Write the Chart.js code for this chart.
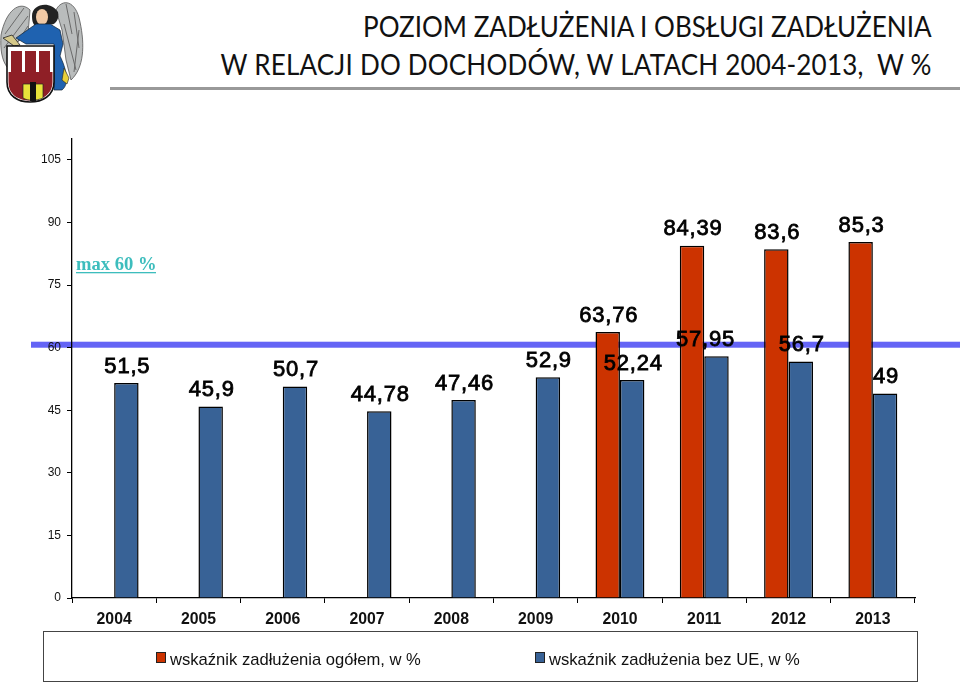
<!DOCTYPE html>
<html lang="pl">
<head>
<meta charset="utf-8">
<title>Poziom zadłużenia</title>
<script src="https://cdn.jsdelivr.net/npm/chart.js@4/dist/chart.umd.min.js"></script>
<style>
    html, body { margin: 0; padding: 0; background: #fff; width: 960px; height: 684px; overflow: hidden; }
    #chart { position: absolute; left: 0; top: 0; }
    #logo { position: absolute; left: 0; top: 0; }
    #title {
        position: absolute; right: 28px; top: 7px; margin: 0; text-align: right; white-space: nowrap;
        font: 400 28px/38px Lato, sans-serif; color: #111; transform-origin: right top; transform: scaleX(0.93);
    }
    #title span { letter-spacing: 0.2px; }
    #rule { position: absolute; left: 110px; right: 0; top: 87px; height: 3px; background: #999; }
</style>
</head>
<body>
<svg id="logo" width="86" height="106" viewBox="0 0 86 106">
    <!-- wings -->
    <path d="M30 10 C20 0 6 10 1 35 C0 50 2 60 7 67 L12 46 L28 34 Z" fill="#b9bcbc" stroke="#555" stroke-width="0.8"/>
    <path d="M56 10 C62 -2 76 0 80 22 C85 45 84 68 71 80 L66 60 L62 30 Z" fill="#b9bcbc" stroke="#555" stroke-width="0.8"/>
    <path d="M24 8 L5 34 M28 16 L4 48 M28 26 L7 58 M66 4 L72 34 M74 12 L79 48 M64 24 L76 70 M79 30 L74 72" stroke="#6a6a6a" stroke-width="1" fill="none"/>
    <!-- figure -->
    <path d="M32 16 C32 4 50 0 58 12 C60 20 54 26 50 24 L38 27 C33 26 32 21 32 16 Z" fill="#222"/>
    <ellipse cx="42" cy="17" rx="6" ry="8" fill="#f1c9a5"/>
    <path d="M36 24 L50 24 L60 30 L63 44 L60 56 C66 68 70 84 62 90 L54 90 L54 44 L26 44 L16 38 Z" fill="#1f62b0" stroke="#123" stroke-width="0.7"/>
    <path d="M64 68 L69 78 L67 84 L62 80 Z" fill="#e8cf3a" stroke="#222" stroke-width="0.6"/>
    <path d="M3 38 L12 35 L20 45 L14 46 Z" fill="#d6c98a" stroke="#222" stroke-width="0.8"/>
    <!-- shield -->
    <path d="M7 46 L54 46 L54 82 C54 96 42 102 30 102 C18 102 7 96 7 82 Z" fill="#fff" stroke="#111" stroke-width="1.6"/>
    <path d="M11 51 H22 V72 H25 V51 H36 V72 H39 V51 H50 V72 H52.5 V82 C52.5 95 41 100.5 30 100.5 C19 100.5 8.5 95 8.5 82 V72 H11 Z" fill="#8f1f26"/>
    <path d="M23 84 H43 V98 C36 101 28 101 23 98 Z" fill="#e8e23a" stroke="#222" stroke-width="0.7"/>
    <rect x="30" y="82" width="6" height="19" fill="#111"/>
</svg>
<h1 id="title">POZIOM ZADŁUŻENIA I OBSŁUGI ZADŁUŻENIA<br><span>W RELACJI DO DOCHODÓW, W LATACH 2004-2013,&nbsp; W %</span></h1>
<div id="rule"></div>
<canvas id="chart" width="960" height="684"></canvas>
<script>
//Data
const years = ["2004", "2005", "2006", "2007", "2008", "2009", "2010", "2011", "2012", "2013"];
const debtTotal = [null, null, null, null, null, null, 63.76, 84.39, 83.6, 85.3];
const debtNoEu = [51.5, 45.9, 50.7, 44.78, 47.46, 52.9, 52.24, 57.95, 56.7, 49];
const debtTotalLabel = "wskaźnik zadłużenia ogółem, w %";
const debtNoEuLabel = "wskaźnik zadłużenia bez UE, w %";
const limitValue = 60.7;
const limitText = "max 60 %";

//Colors
const RED = "#cc3300";
const BLUE = "#386296";

//The 57,95 label is moved left of its bar in the reference
const shiftedLabel = { index: 7, dx: -12 };

//Value labels, polish decimal comma
const formatValue = v => String(v).replace(".", ",");

//Limit line sits behind the axes and bars
const limitLine = {
    id: "limitLine",
    beforeDraw(chart) {
        const { ctx, width, scales } = chart;
        const y = scales.y.getPixelForValue(limitValue);
        ctx.save();
        ctx.fillStyle = "#6464f5";
        ctx.fillRect(31, y - 3, width - 31, 6);
        ctx.font = "bold 18.6px 'Liberation Serif'";
        ctx.fillStyle = "#3dbdbd";
        ctx.textBaseline = "alphabetic";
        ctx.fillText(limitText, 76, 270);
        ctx.fillRect(76, 272, 80, 1.3);
        ctx.restore();
    }
};

//Value labels above bars
const valueLabels = {
    id: "valueLabels",
    afterDatasetsDraw(chart) {
        const { ctx } = chart;
        ctx.save();
        ctx.font = "22px 'Liberation Sans'";
        ctx.letterSpacing = "0.8px";
        ctx.textAlign = "center";
        ctx.textBaseline = "middle";
        ctx.fillStyle = "#000";
        ctx.strokeStyle = "#000";
        ctx.lineWidth = 0.8;
        [1, 0].forEach(ds => {
            chart.getDatasetMeta(ds).data.forEach((bar, i) => {
                const v = chart.data.datasets[ds].data[i];
                if (v === null) return;
                const shift = ds === 1 && i === shiftedLabel.index ? shiftedLabel.dx : 0;
                const x = bar.x + 1 + shift;
                const y = bar.y - 16.5;
                ctx.strokeText(formatValue(v), x, y);
                ctx.fillText(formatValue(v), x, y);
            });
        });
        ctx.restore();
    }
};

//Boxed legend spread over the page width
const boxLegend = {
    id: "boxLegend",
    afterDraw(chart) {
        const { ctx } = chart;
        const xs = [156, 535];
        ctx.save();
        ctx.strokeStyle = "#444";
        ctx.lineWidth = 1;
        ctx.strokeRect(43.5, 631.5, 874, 50);
        ctx.font = "16.6px 'Liberation Sans'";
        ctx.textBaseline = "middle";
        chart.data.datasets.forEach((ds, i) => {
            ctx.fillStyle = ds.backgroundColor;
            ctx.fillRect(xs[i] + 0.5, 652.5, 9, 10);
            ctx.strokeStyle = "#222";
            ctx.strokeRect(xs[i] + 0.5, 652.5, 9, 10);
            ctx.fillStyle = "#111";
            ctx.fillText(ds.label, xs[i] + 14, 660);
        });
        ctx.restore();
    }
};

new Chart(document.getElementById("chart"), {
    type: "bar",
    data: {
        labels: years,
        datasets: [
            { label: debtTotalLabel, data: debtTotal, backgroundColor: RED, borderColor: "#000", borderWidth: 1.5 },
            { label: debtNoEuLabel, data: debtNoEu, backgroundColor: BLUE, borderColor: "#000", borderWidth: 1.5 }
        ]
    },
    options: {
        responsive: false,
        animation: false,
        layout: { padding: { top: 139, right: 45, left: 0, bottom: 0 } },
        datasets: { bar: { categoryPercentage: 0.58, barPercentage: 1 } },
        plugins: { legend: { display: false }, title: { display: false }, tooltip: { enabled: false } },
        scales: {
            x: {
                afterFit: s => { s.height = 86; },
                grid: { drawOnChartArea: false, tickLength: 5, tickColor: "#000", tickWidth: 1 },
                border: { color: "#000", width: 1.3 },
                ticks: { color: "#111", padding: 7, maxRotation: 0, font: { family: "'Liberation Sans'", size: 15.8, weight: "bold" } }
            },
            y: {
                min: 0,
                max: 110,
                afterFit: s => { s.width = 72; },
                grid: { drawOnChartArea: false, tickLength: 5, tickColor: "#000", tickWidth: 1 },
                border: { color: "#000", width: 1.3 },
                ticks: { stepSize: 15, includeBounds: false, color: "#111", padding: 6, font: { family: "'Liberation Sans'", size: 12 } }
            }
        }
    },
    plugins: [limitLine, valueLabels, boxLegend]
});
</script>
</body>
</html>
